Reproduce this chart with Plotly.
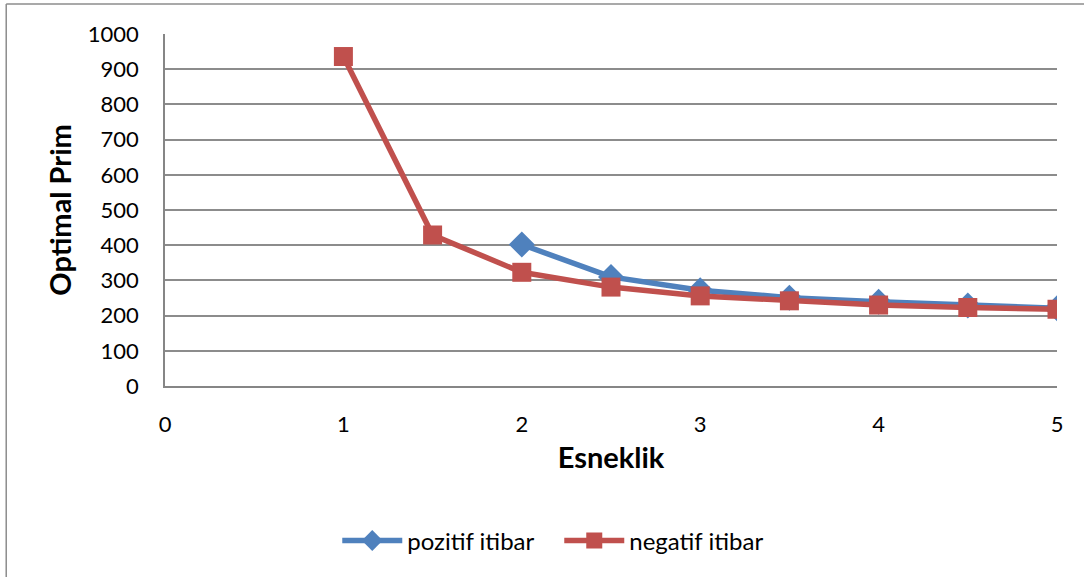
import plotly.graph_objects as go

x_pos = [2, 2.5, 3, 3.5, 4, 4.5, 5]
y_pos = [402, 310, 272, 251, 239, 229, 221]
x_neg = [1, 1.5, 2, 2.5, 3, 3.5, 4, 4.5, 5]
y_neg = [936, 429, 323, 281, 256, 242, 230, 223, 218]
names = ["pozitif itibar", "negatif itibar"]
colors = ["#4F81BD", "#C0504D"]

FONT = "Lato"

fig = go.Figure()
fig.add_trace(go.Scatter(x=x_pos, y=y_pos, name=names[0], mode="lines+markers",
                         line=dict(color=colors[0], width=5.5),
                         marker=dict(symbol="diamond", size=20, color=colors[0])))
fig.add_trace(go.Scatter(x=x_neg, y=y_neg, name=names[1], mode="lines+markers",
                         line=dict(color=colors[1], width=5.5),
                         marker=dict(symbol="square", size=19, color=colors[1])))

fig.update_layout(
    width=1084, height=577,
    margin=dict(l=165, r=27, t=34, b=191),
    paper_bgcolor="white", plot_bgcolor="white",
    font=dict(family=FONT, size=22, color="black"),
    showlegend=True,
    legend=dict(orientation="h", x=0.442, y=-0.44, xanchor="center", yanchor="middle",
                font=dict(size=24), itemwidth=60, tracegroupgap=0, entrywidth=147),
    xaxis=dict(range=[0, 5], dtick=1, tick0=0, showgrid=False, zeroline=False,
               showline=True, linecolor="#868686", linewidth=1.5,
               ticks="", ticklabelstandoff=18,
               title=dict(text="<b>Esneklik</b>", font=dict(size=29), standoff=12)),
    yaxis=dict(range=[0, 1000], dtick=100, tick0=0, showgrid=True, gridcolor="#8C8C8C",
               gridwidth=1.5, zeroline=False, showline=True, linecolor="#868686", linewidth=1.5,
               ticks="", ticklabelstandoff=20,
               title=dict(text="<b>Optimal Prim</b>", font=dict(size=29), standoff=8)),
    shapes=[
        dict(type="line", xref="paper", yref="paper", x0=-0.178, x1=1.05, y0=1.0 + 30/352, y1=1.0 + 30/352,
             line=dict(color="#8C8C8C", width=1.5)),
        dict(type="line", xref="paper", yref="paper", x0=-0.178, x1=-0.178, y0=1.0 + 30/352, y1=-0.6,
             line=dict(color="#8C8C8C", width=1.5)),
    ],
)

fig.write_html("out.html")
